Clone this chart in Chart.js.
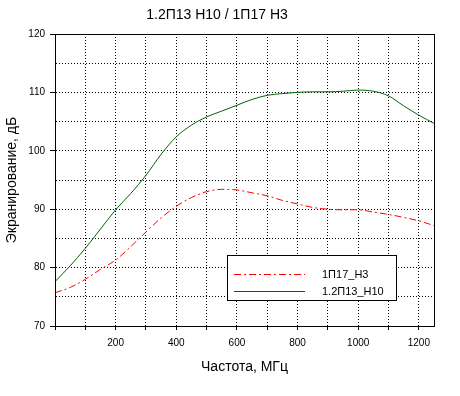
<!DOCTYPE html>
<html>
<head>
<meta charset="utf-8">
<script src="https://cdn.jsdelivr.net/npm/chart.js@4/dist/chart.umd.min.js"></script>
<style>
  html, body { margin: 0; padding: 0; background: #fff; }
  canvas { display: block; }
</style>
</head>
<body>
<canvas id="graph" width="460" height="396"></canvas>
<script>
// частоты, МГц
const freq = [0, 50, 100, 150, 200, 250, 300, 350, 400, 450, 500, 550, 600, 650,
              700, 750, 800, 850, 900, 950, 1000, 1050, 1100, 1150, 1200, 1250];

// 1П17_Н3, дБ
const seriesN3 = [75.7, 76.6, 78.0, 79.7, 81.3, 83.6, 86.1, 88.5, 90.5, 92.0, 93.0, 93.4, 93.3, 92.8,
                  92.3, 91.5, 90.9, 90.3, 90.0, 89.9, 89.9, 89.5, 89.1, 88.6, 88.0, 87.2];

// 1.2П13_Н10, дБ
const seriesN10 = [77.6, 80.3, 83.3, 86.6, 89.9, 92.7, 95.8, 99.4, 102.4, 104.4, 105.8, 106.8, 107.8, 108.8,
                   109.5, 109.8, 110.0, 110.1, 110.1, 110.2, 110.4, 110.2, 109.4, 107.7, 106.1, 104.7];

const seriesNames = ["1П17_Н3", "1.2П13_Н10"];
const seriesColors = ["#FF0000", "#006400"];
const chartTitle = "1.2П13 Н10 / 1П17 Н3";
const xTitle = "Частота, МГц";
const yTitle = "Экранирование, дБ";

const FONT = "'Liberation Sans', Arial, sans-serif";
const redDash = [7, 3, 2, 3];

// рамка вокруг области графика + легенда
const framePlugin = {
    id: "frame",
    afterDraw(chart) {
        const { ctx, chartArea: a } = chart;
        ctx.save();
        ctx.strokeStyle = "#000";
        ctx.lineWidth = 1;
        ctx.strokeRect(Math.round(a.left) + 0.5, Math.round(a.top) + 0.5,
                       Math.round(a.right - a.left), Math.round(a.bottom - a.top));

        // легенда
        ctx.fillStyle = "#fff";
        ctx.fillRect(227, 255, 169, 45);
        ctx.strokeRect(227.5, 255.5, 169, 45);
        const rows = [274.5, 291.5];
        ctx.font = "11px " + FONT;
        ctx.textBaseline = "middle";
        rows.forEach((y, i) => {
            ctx.beginPath();
            ctx.setLineDash(i === 0 ? redDash : []);
            ctx.strokeStyle = seriesColors[i];
            ctx.moveTo(234, y);
            ctx.lineTo(305, y);
            ctx.stroke();
            ctx.setLineDash([]);
            ctx.fillStyle = "#000";
            ctx.fillText(seriesNames[i], 322, y);
        });
        ctx.restore();
    }
};

new Chart(document.getElementById("graph"), {
    type: "line",
    data: {
        datasets: [
            {
                label: seriesNames[0],
                data: freq.map((f, i) => ({ x: f, y: seriesN3[i] })),
                borderColor: seriesColors[0],
                borderWidth: 1,
                borderDash: redDash,
                pointRadius: 0,
                cubicInterpolationMode: "monotone"
            },
            {
                label: seriesNames[1],
                data: freq.map((f, i) => ({ x: f, y: seriesN10[i] })),
                borderColor: seriesColors[1],
                borderWidth: 1,
                pointRadius: 0,
                cubicInterpolationMode: "monotone"
            }
        ]
    },
    options: {
        responsive: false,
        animation: false,
        layout: { padding: { left: 0, right: 26, top: 0, bottom: 0 } },
        plugins: {
            legend: { display: false },
            tooltip: { enabled: false },
            title: {
                display: true,
                text: chartTitle,
                color: "#000",
                font: { family: FONT, size: 14, weight: "normal" },
                padding: { top: 7, bottom: 10.2 }
            }
        },
        scales: {
            x: {
                type: "linear",
                min: 0,
                max: 1250,
                afterFit: s => { s.height = 70; },
                border: { display: true, color: "#000", width: 1, dash: [1, 2] },
                grid: {
                    color: "#000",
                    tickColor: "#000",
                    tickLength: 4,
                    tickBorderDash: []
                },
                ticks: {
                    stepSize: 100,
                    includeBounds: false,
                    autoSkip: false,
                    maxRotation: 0,
                    padding: 7,
                    color: "#000",
                    font: { family: FONT, size: 10 },
                    callback: v => (v > 0 && v <= 1200 && v % 200 === 0) ? v : ""
                },
                title: {
                    display: true,
                    text: xTitle,
                    color: "#000",
                    font: { family: FONT, size: 14 },
                    padding: { top: 0, bottom: 20.6 }
                }
            },
            y: {
                min: 70,
                max: 120,
                afterFit: s => { s.width = 55; },
                border: { display: true, color: "#000", width: 1, dash: [1, 2] },
                grid: {
                    color: "#000",
                    tickColor: c => (c.tick && c.tick.value % 10 === 0) ? "#000" : "rgba(0,0,0,0)",
                    tickLength: 5,
                    tickBorderDash: []
                },
                ticks: {
                    stepSize: 5,
                    padding: 5,
                    color: "#000",
                    font: { family: FONT, size: 10 },
                    callback: v => v % 10 === 0 ? v : ""
                },
                title: {
                    display: true,
                    text: yTitle,
                    color: "#000",
                    font: { family: FONT, size: 14 },
                    padding: { top: 4.1, bottom: 0 }
                }
            }
        }
    },
    plugins: [framePlugin]
});
</script>
</body>
</html>
